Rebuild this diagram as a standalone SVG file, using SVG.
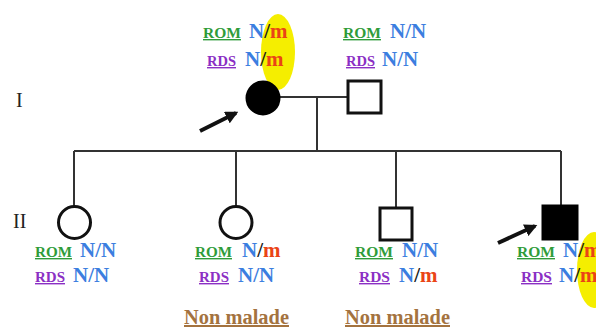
<svg xmlns="http://www.w3.org/2000/svg" width="596" height="329" viewBox="0 0 596 329">
  <style>
    .gen { font-family: "Liberation Serif", "Times New Roman", serif; font-weight: bold; }
    .rom { fill: #2f9c3a; font-size: 14px; text-decoration: underline; }
    .rds { fill: #8b2fc4; font-size: 14px; text-decoration: underline; }
    .geno { font-size: 21px; }
    .n { fill: #3b7ee0; }
    .m { fill: #ea4416; }
    .sl { fill: #1a1a1a; }
    .gen-label { font-family: "Liberation Serif", "Times New Roman", serif; font-size: 20px; fill: #222; }
    .status { font-family: "Liberation Serif", "Times New Roman", serif; font-weight: bold; font-size: 20px; fill: #a4733f; text-decoration: underline; }
    .line { stroke: #333; stroke-width: 2; fill: none; }
    .open { fill: #fff; stroke: #111; stroke-width: 3; }
    .filled { fill: #000; stroke: #000; stroke-width: 3; }
    .hl { fill: #f5ee00; }
    .arrow { stroke: #111; stroke-width: 4; fill: none; }
  </style>
  <defs>
    <marker id="head" viewBox="0 0 10 10" refX="8" refY="5" markerWidth="3.2" markerHeight="3.2" orient="auto" markerUnits="strokeWidth">
      <path d="M0,0 L10,5 L0,10 z" fill="#111"/>
    </marker>
  </defs>

  <rect width="596" height="329" fill="#fff"/>

  <!-- mutation highlights -->
  <ellipse class="hl" cx="278" cy="52" rx="17" ry="38"/>
  <ellipse class="hl" cx="594" cy="270" rx="17" ry="38"/>

  <!-- generation labels -->
  <text class="gen-label" x="16" y="107">I</text>
  <text class="gen-label" x="13" y="228">II</text>

  <!-- connectors -->
  <g id="connectors">
    <line class="line" x1="263" y1="97" x2="365" y2="97"/>
    <line class="line" x1="317" y1="97" x2="317" y2="151"/>
    <line class="line" x1="74" y1="151" x2="561" y2="151"/>
    <line class="line" x1="74" y1="151" x2="74" y2="206"/>
    <line class="line" x1="236" y1="151" x2="236" y2="206"/>
    <line class="line" x1="396" y1="151" x2="396" y2="207"/>
    <line class="line" x1="561" y1="151" x2="561" y2="206"/>
    <line class="arrow" x1="200" y1="131" x2="236" y2="113" marker-end="url(#head)"/>
    <line class="arrow" x1="498" y1="243" x2="535" y2="226" marker-end="url(#head)"/>
  </g>

  <!-- I-1 : affected mother -->
  <g id="I-1">
    <circle class="filled" cx="263" cy="98" r="16"/>
    <text class="gen rom" x="203" y="38" textLength="38" lengthAdjust="spacingAndGlyphs">ROM</text>
    <text class="gen geno" x="249" y="38"><tspan class="n">N</tspan><tspan class="sl">/</tspan><tspan class="m">m</tspan></text>
    <text class="gen rds" x="207" y="66" textLength="29" lengthAdjust="spacingAndGlyphs">RDS</text>
    <text class="gen geno" x="245" y="66"><tspan class="n">N</tspan><tspan class="sl">/</tspan><tspan class="m">m</tspan></text>
  </g>

  <!-- I-2 : father -->
  <g id="I-2">
    <rect class="open" x="348" y="81" width="33" height="32"/>
    <text class="gen rom" x="343" y="38" textLength="38" lengthAdjust="spacingAndGlyphs">ROM</text>
    <text class="gen geno n" x="390" y="38">N/N</text>
    <text class="gen rds" x="346" y="66" textLength="29" lengthAdjust="spacingAndGlyphs">RDS</text>
    <text class="gen geno n" x="382" y="66">N/N</text>
  </g>

  <!-- II-1 -->
  <g id="II-1">
    <circle class="open" cx="74.5" cy="222.5" r="16"/>
    <text class="gen rom" x="35" y="257" textLength="37" lengthAdjust="spacingAndGlyphs">ROM</text>
    <text class="gen geno n" x="80" y="257">N/N</text>
    <text class="gen rds" x="35" y="282" textLength="30" lengthAdjust="spacingAndGlyphs">RDS</text>
    <text class="gen geno n" x="73" y="282">N/N</text>
  </g>

  <!-- II-2 -->
  <g id="II-2">
    <circle class="open" cx="236" cy="222.5" r="16"/>
    <text class="gen rom" x="195" y="257" textLength="37" lengthAdjust="spacingAndGlyphs">ROM</text>
    <text class="gen geno" x="242" y="257"><tspan class="n">N</tspan><tspan class="sl">/</tspan><tspan class="m">m</tspan></text>
    <text class="gen rds" x="199" y="282" textLength="30" lengthAdjust="spacingAndGlyphs">RDS</text>
    <text class="gen geno n" x="238" y="282">N/N</text>
    <text class="status" x="184" y="324" textLength="105" lengthAdjust="spacingAndGlyphs">Non malade</text>
  </g>

  <!-- II-3 -->
  <g id="II-3">
    <rect class="open" x="380" y="208" width="32" height="32"/>
    <text class="gen rom" x="355" y="257" textLength="38" lengthAdjust="spacingAndGlyphs">ROM</text>
    <text class="gen geno n" x="402" y="257">N/N</text>
    <text class="gen rds" x="359" y="282" textLength="31" lengthAdjust="spacingAndGlyphs">RDS</text>
    <text class="gen geno" x="399" y="282"><tspan class="n">N</tspan><tspan class="sl">/</tspan><tspan class="m">m</tspan></text>
    <text class="status" x="345" y="324" textLength="105" lengthAdjust="spacingAndGlyphs">Non malade</text>
  </g>

  <!-- II-4 : affected son -->
  <g id="II-4">
    <rect class="filled" x="543" y="206" width="34" height="33"/>
    <text class="gen rom" x="517" y="257" textLength="38" lengthAdjust="spacingAndGlyphs">ROM</text>
    <text class="gen geno" x="563" y="257"><tspan class="n">N</tspan><tspan class="sl">/</tspan><tspan class="m">m</tspan></text>
    <text class="gen rds" x="521" y="282" textLength="31" lengthAdjust="spacingAndGlyphs">RDS</text>
    <text class="gen geno" x="559" y="282"><tspan class="n">N</tspan><tspan class="sl">/</tspan><tspan class="m">m</tspan></text>
  </g>
</svg>
